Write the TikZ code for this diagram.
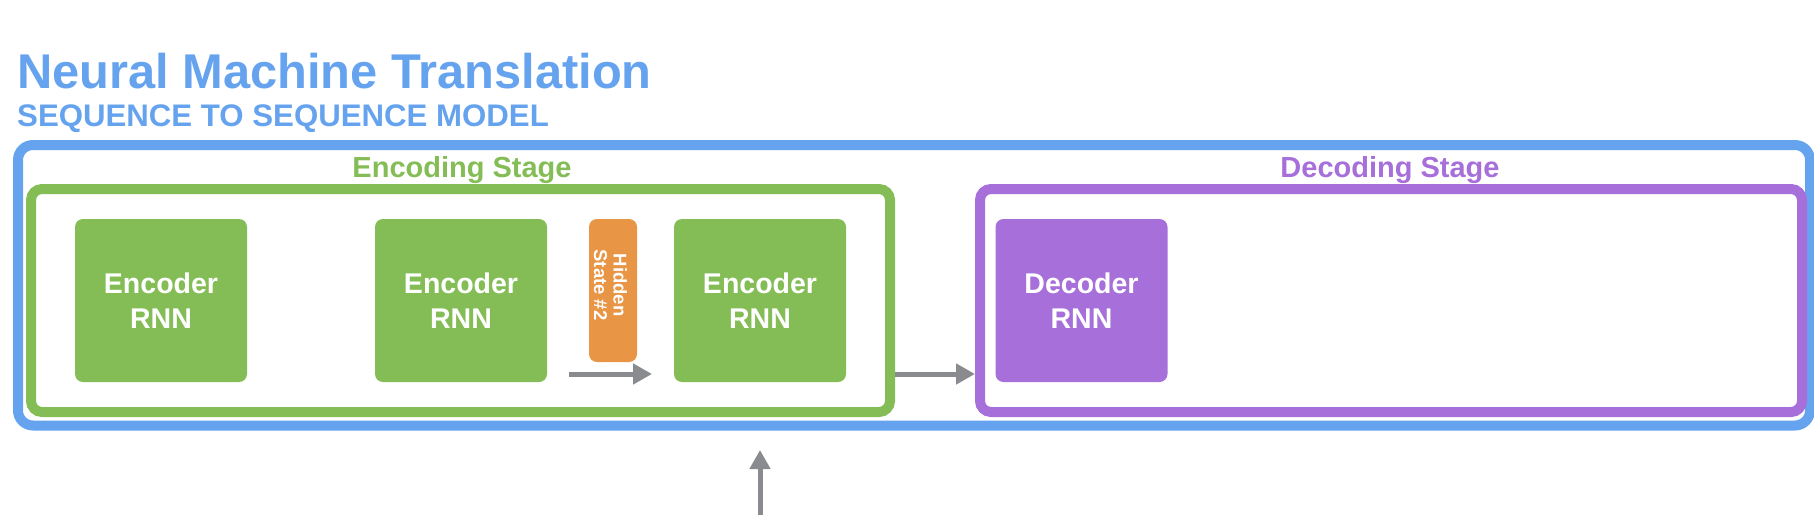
\documentclass[tikz,border=0pt]{standalone}
\usepackage{fontspec}
\setmainfont{Liberation Sans}
\usetikzlibrary{arrows.meta}
\definecolor{nmtblue}{RGB}{102,163,238}
\definecolor{encgreen}{RGB}{132,189,85}
\definecolor{decpurple}{RGB}{166,111,217}
\definecolor{hidorange}{RGB}{232,149,69}
\definecolor{arrgray}{RGB}{138,139,142}
\tikzset{
  frame/.style={draw, line width=10pt, inner sep=0pt, minimum height=223pt},
  rnnbox/.style={rounded corners=8pt, minimum width=172pt, minimum height=163pt,
    inner sep=0pt, text=white, align=center, font=\bfseries\fontsize{28.5}{35}\selectfont},
  stagelabel/.style={anchor=base, inner sep=0pt, font=\bfseries\fontsize{29}{34}\selectfont},
  arr/.style={draw=arrgray, line width=5pt, -{Triangle[length=19pt,width=20pt]}}
}
\begin{document}
\begin{tikzpicture}[x=1pt,y=-1pt]
\useasboundingbox (0,0) rectangle (1814,530);
% titles
\node[anchor=base west, inner sep=0pt, text=nmtblue, font=\bfseries\fontsize{48.8}{56}\selectfont] (title) at (17,88) {Neural Machine Translation};
\node[anchor=base west, inner sep=0pt, text=nmtblue, font=\bfseries\fontsize{31.2}{36}\selectfont] (subtitle) at (17,126) {SEQUENCE TO SEQUENCE MODEL};
% outer frame
\node[frame, draw=nmtblue, rounded corners=15pt, minimum width=1792pt, minimum height=280.5pt] (outer) at (914,285.25) {};
% stage frames
\node[frame, draw=encgreen, rounded corners=11pt, minimum width=859pt] (green) at (460.5,300.5) {};
\node[frame, draw=decpurple, rounded corners=11pt, minimum width=822pt] (purple) at (1391,300.5) {};
\node[stagelabel, text=encgreen] (enclabel) at (462,177) {Encoding Stage};
\node[stagelabel, text=decpurple] (declabel) at (1390,177) {Decoding Stage};
% RNN boxes
\node[rnnbox, fill=encgreen] (enc1) at (161,300.5) {Encoder\\RNN};
\node[rnnbox, fill=encgreen] (enc2) at (461,300.5) {Encoder\\RNN};
\node[rnnbox, fill=encgreen] (enc3) at (760,300.5) {Encoder\\RNN};
\node[rnnbox, fill=decpurple] (dec) at (1081.5,300.5) {Decoder\\RNN};
% hidden state
\node[fill=hidorange, rounded corners=8pt, minimum width=48pt, minimum height=143pt, inner sep=0pt] (hid) at (613,290.5) {};
\node[rotate=-90, text=white, align=center, inner sep=0pt, font=\bfseries\fontsize{18.5}{19.5}\selectfont] (hidtext) at ([shift={(-2.5,-5.5)}]hid.center) {Hidden\\State \#2};
% arrows
\coordinate (a1s) at (569,374);
\coordinate (a1e) at (652,374);
\draw[arr] (a1s) -- (a1e);
\draw[arr] (green.east |- 0,374) -- (purple.west |- 0,374);
\coordinate (ups) at (760,515);
\coordinate (upe) at (760,450);
\draw[arr] (ups) -- (upe);
\end{tikzpicture}
\end{document}
